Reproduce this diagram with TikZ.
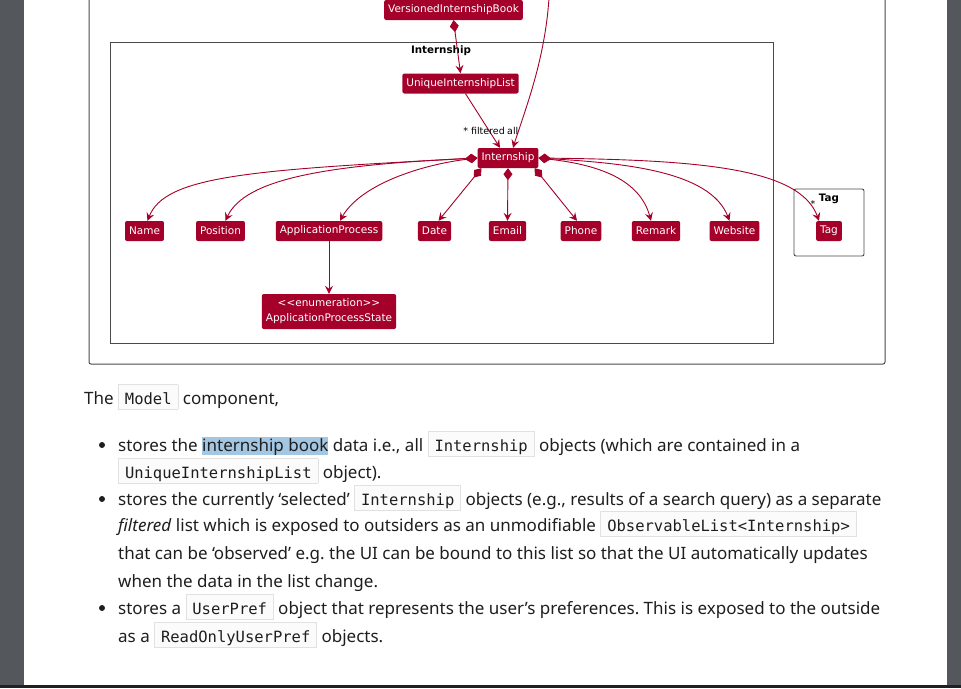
\documentclass[tikz,border=0pt]{standalone}
\usepackage{fontspec}
\usepackage{xcolor}
\setmainfont{Noto Sans}
\setmonofont{DejaVu Sans Mono}
\newfontfamily\umlfont{DejaVu Sans}
\usetikzlibrary{arrows.meta}
\definecolor{umlred}{HTML}{A50029}
\definecolor{pagegray}{HTML}{54585C}
\definecolor{pageblack}{HTML}{1F2123}
\definecolor{framegray}{HTML}{4A4A4A}
\definecolor{codeline}{HTML}{E1E1E1}
\definecolor{codefill}{HTML}{FBFBFB}
\definecolor{hlblue}{HTML}{A3C6E3}
\definecolor{bodytext}{HTML}{1E1E1E}
\newcommand{\code}[1]{{\setlength{\fboxsep}{0pt}\setlength{\fboxrule}{0.8pt}\fcolorbox{codeline}{codefill}{\rule[-5pt]{0pt}{24pt}\hspace{6pt}{\ttfamily\fontsize{15.5}{18}\selectfont #1}\hspace{6pt}}}}
\newcommand{\hilite}[1]{{\setlength{\fboxsep}{0pt}\colorbox{hlblue}{\rule[-4pt]{0pt}{18.5pt}#1}}}
\frenchspacing

\begin{document}
\begin{tikzpicture}[x=1pt, y=-1pt,
  cls/.style={fill=umlred, text=white, rounded corners=2pt, inner xsep=4pt, inner ysep=0pt,
    minimum height=20pt, font=\umlfont\fontsize{10.5}{15}\selectfont},
  pkg/.style={draw=framegray, line width=0.9pt},
  pkgtitle/.style={inner sep=0pt, font=\umlfont\bfseries\fontsize{10.3}{12}\selectfont},
  mult/.style={inner sep=0pt, font=\umlfont\fontsize{9.5}{11}\selectfont},
  comp/.style={umlred, line width=0.9pt, {Diamond[length=12pt,width=9pt]}-{Stealth[length=8pt,width=8pt,inset=3pt]}},
  assoc/.style={umlred, line width=0.9pt, -{Stealth[length=8pt,width=8pt,inset=3pt]}},
  line/.style={anchor=base west, inner sep=0pt, text=bodytext, font=\fontsize{17}{20}\selectfont},
  dot/.style={circle, fill=bodytext, inner sep=0pt, minimum size=6pt}]
    \clip (0,0) rectangle (961,688);
    \fill[white] (0,0) rectangle (961,688);
    \fill[pagegray] (0,0) rectangle (24,688);
    \fill[pagegray] (947,0) rectangle (961,688);
    \fill[pageblack] (0,685) rectangle (961,688);

    \draw[framegray, line width=1pt, rounded corners=2pt] (89,-5) rectangle (885,364);
    \draw[pkg] (110,42) rectangle (773,343);
    \node[pkgtitle] (pkgint) at (441,51) {Internship};
    \draw[pkg, rounded corners=2pt] (794,189) rectangle (864,256);
    \node[pkgtitle] (pkgtag) at (829,199) {Tag};

    \node[cls] (vib) at (453.5,10) {VersionedInternshipBook};
    \node[cls] (uil) at (460.5,83.5) {UniqueInternshipList};
    \node[cls] (int) at (508,158) {Internship};
    \node[cls] (name) at (144.5,231) {Name};
    \node[cls] (pos) at (220.5,231) {Position};
    \node[cls] (ap) at (329,231) {ApplicationProcess};
    \node[cls] (date) at (434.5,231) {Date};
    \node[cls] (email) at (507.5,231) {Email};
    \node[cls] (phone) at (581,231) {Phone};
    \node[cls] (remark) at (656,231) {Remark};
    \node[cls] (web) at (734.5,231) {Website};
    \node[cls] (tag) at (829,231) {Tag};
    \node[cls, align=center, minimum height=35pt] (aps) at (329,311.5) {<<enumeration>>\\ApplicationProcessState};
    \coordinate (topend) at (549,-2);

    \draw[comp] (vib.south) -- (uil.north);
    \draw[assoc] ([xshift=5pt]uil.south) -- ([xshift=-8pt]int.north);
    \draw[assoc] (topend) .. controls (545,60) and (525,110) .. ([xshift=5pt]int.north);
    \node[mult, anchor=east] (lblfilt) at (505,131) {* filtered};
    \node[mult, anchor=west] (lblall) at (507,131) {all};

    \draw[comp] (int.west) .. controls (250,170) and (165,176) .. ([xshift=3pt]name.north);
    \draw[comp] (int.west) .. controls (330,165) and (245,178) .. ([xshift=5pt]pos.north);
    \draw[comp] (int.west) .. controls (420,165) and (360,185) .. ([xshift=11pt]ap.north);
    \draw[comp] ([xshift=4pt]int.south west) -- ([xshift=4pt]date.north);
    \draw[comp] (int.south) -- (email.north);
    \draw[comp] ([xshift=-4pt]int.south east) -- ([xshift=-4pt]phone.north);
    \draw[comp] (int.east) .. controls (600,165) and (640,180) .. ([xshift=-5pt]remark.north);
    \draw[comp] (int.east) .. controls (620,163) and (710,170) .. ([xshift=-5pt]web.north);
    \draw[comp] (int.east) .. controls (700,160) and (800,168) .. ([xshift=-10pt]tag.north);
    \node[mult] (lbltag) at (813,204) {*};
    \draw[assoc] (ap.south) -- (aps.north);

    \node[line] (l0) at (84,404) {The \code{Model} component,};
    \node[dot] (b1) at (102,445) {};
    \node[line] (l1) at (118,451) {stores the \hilite{internship book} data i.e., all \code{Internship} objects (which are contained in a};
    \node[line] (l2) at (118,478) {\code{UniqueInternshipList} object).};
    \node[dot] (b2) at (102,499) {};
    \node[line] (l3) at (118,505) {stores the currently ‘selected’ \code{Internship} objects (e.g., results of a search query) as a separate};
    \node[line] (l4) at (118,531) {\textit{filtered} list which is exposed to outsiders as an unmodifiable \code{ObservableList<Internship>}};
    \node[line] (l5) at (118,559) {that can be ‘observed’ e.g. the UI can be bound to this list so that the UI automatically updates};
    \node[line] (l6) at (118,587) {when the data in the list change.};
    \node[dot] (b3) at (102,608) {};
    \node[line] (l7) at (118,614) {stores a \code{UserPref} object that represents the user’s preferences. This is exposed to the outside};
    \node[line] (l8) at (118,642) {as a \code{ReadOnlyUserPref} objects.};
\end{tikzpicture}
\end{document}
